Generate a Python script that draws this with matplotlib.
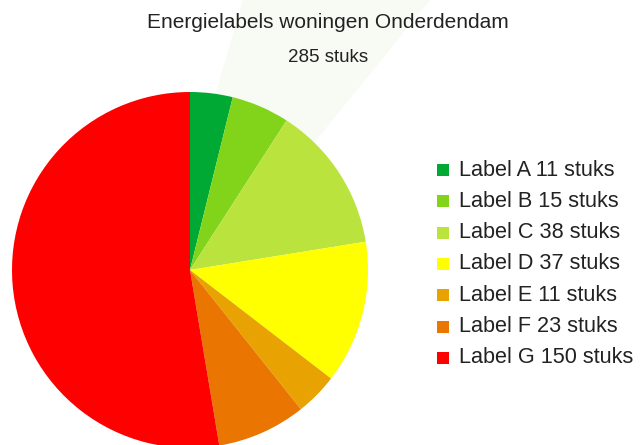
import matplotlib.pyplot as plt
from matplotlib.patches import Polygon, Rectangle

plt.rcParams['font.family'] = ['Liberation Sans', 'DejaVu Sans']

# data
labels = ['Label A', 'Label B', 'Label C', 'Label D', 'Label E', 'Label F', 'Label G']
counts = [11, 15, 38, 37, 11, 23, 150]
colors = ['#00a933', '#81d41a', '#bbe33d', '#ffff00', '#e8a202', '#ea7500', '#ff0000']
total = sum(counts)

W, H = 640, 445
fig = plt.figure(figsize=(W / 100, H / 100), dpi=100)

# faint highlight behind the top of the pie
fig.patches.append(Polygon([(196 / W, 1 - 160 / H), (243 / W, 1.0), (430 / W, 1.0), (300 / W, 1 - 160 / H)],
                           closed=True, transform=fig.transFigure, facecolor='#f7fbf4',
                           edgecolor='none', zorder=-5))

# pie, centre (190, 270) px, radius 178 px
cx, cy, r = 190, 270, 178
ax = fig.add_axes([(cx - r) / W, (H - cy - r) / H, 2 * r / W, 2 * r / H])
ax.set_zorder(1)
ax.patch.set_visible(False)
ax.pie(counts, colors=colors, startangle=90, counterclock=False,
       wedgeprops=dict(linewidth=0), radius=1)
ax.set_xlim(-1, 1)
ax.set_ylim(-1, 1)
ax.set_aspect('equal')
ax.axis('off')
for p in ax.patches:
    p.set_clip_on(False)

fig.text(328 / W, 1 - 22 / H, 'Energielabels woningen Onderdendam', ha='center', va='center',
         fontsize=15, color='#222222', zorder=2)
fig.text(328 / W, 1 - 57 / H, f'{total} stuks', ha='center', va='center',
         fontsize=13.5, color='#222222', zorder=2)

# legend
y0, dy = 170, 31.3
for i, (lab, n, c) in enumerate(zip(labels, counts, colors)):
    y = y0 + i * dy
    fig.patches.append(Rectangle((437 / W, 1 - (y + 6) / H), 12 / W, 12 / H,
                                 transform=fig.transFigure, facecolor=c, edgecolor='none'))
    fig.text(459 / W, 1 - y / H, f'{lab} {n} stuks', ha='left', va='center',
             fontsize=15.6, color='#222222')

fig.savefig('out.png', dpi=100)
